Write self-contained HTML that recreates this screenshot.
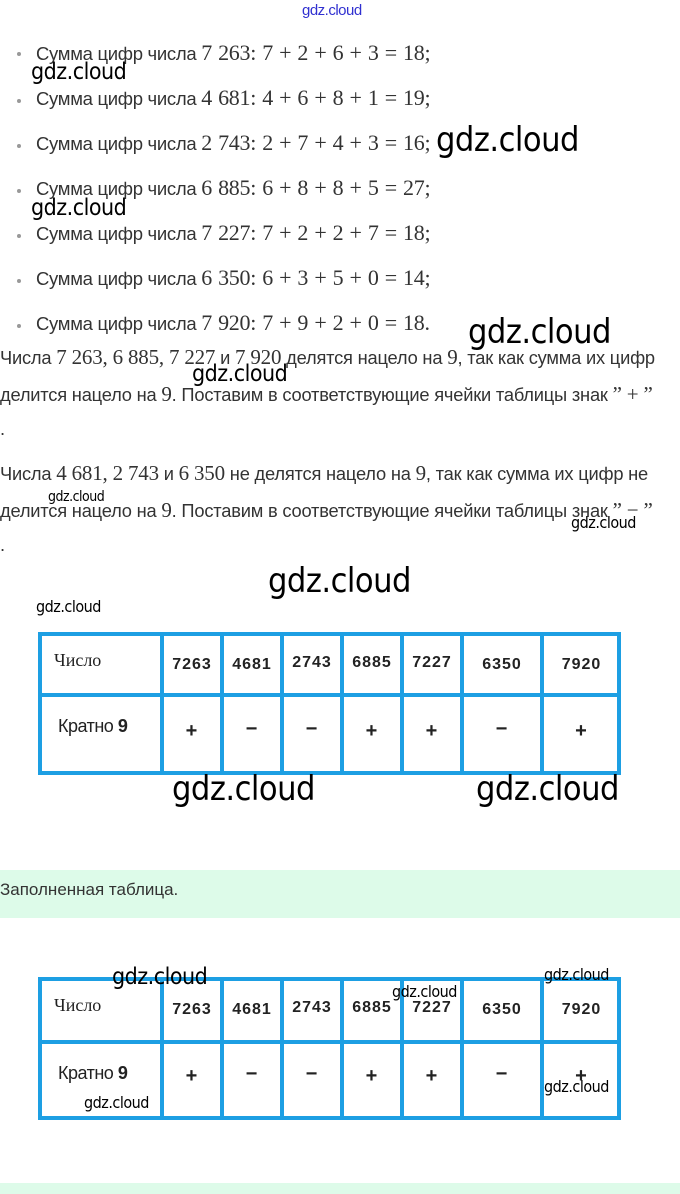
<!DOCTYPE html>
<html><head><meta charset="utf-8"><style>
body{margin:0;width:680px;height:1194px;position:relative;background:#fff;font-family:"Liberation Sans","DejaVu Sans",sans-serif;color:#333;overflow:hidden}
.a{position:absolute;white-space:nowrap}
.li{font-size:18.5px;left:36px;letter-spacing:-0.3px}
.li .m{font-family:"Liberation Serif",serif;font-size:22px;word-spacing:1px}
.dot{position:absolute;left:17px;width:4px;height:4px;background:#999;border-radius:50%}
.p{font-size:18.3px;left:0;letter-spacing:-0.2px}
.p .m{font-family:"Liberation Serif",serif;font-size:21px}
.w{position:absolute;color:#000;font-family:"DejaVu Sans Condensed","DejaVu Sans",sans-serif;white-space:nowrap;letter-spacing:-0.5px}
.tb{position:absolute;left:38px;width:583px;border:4px solid #1d9fe3;box-sizing:border-box}
.vl{position:absolute;top:0;bottom:0;width:4px;background:#1d9fe3}
.hl{position:absolute;left:0;right:0;height:4px;background:#1d9fe3}
.c{position:absolute;font-size:16px;color:#222;text-align:center;letter-spacing:1px;font-weight:bold}
.g{position:absolute;left:0;width:680px;background:#ddfbe9}
</style></head><body>
<div class="a" style="left:302px;top:2px;color:#3030d0;font-size:15px;letter-spacing:-0.5px">gdz.cloud</div>

<div class="dot" style="top:52px"></div><div class="a li" style="top:40px">Сумма цифр числа <span class="m">7 263: 7 + 2 + 6 + 3 = 18;</span></div>
<div class="dot" style="top:99px"></div><div class="a li" style="top:85px">Сумма цифр числа <span class="m">4 681: 4 + 6 + 8 + 1 = 19;</span></div>
<div class="dot" style="top:144px"></div><div class="a li" style="top:130px">Сумма цифр числа <span class="m">2 743: 2 + 7 + 4 + 3 = 16;</span></div>
<div class="dot" style="top:189px"></div><div class="a li" style="top:175px">Сумма цифр числа <span class="m">6 885: 6 + 8 + 8 + 5 = 27;</span></div>
<div class="dot" style="top:234px"></div><div class="a li" style="top:220px">Сумма цифр числа <span class="m">7 227: 7 + 2 + 2 + 7 = 18;</span></div>
<div class="dot" style="top:279px"></div><div class="a li" style="top:265px">Сумма цифр числа <span class="m">6 350: 6 + 3 + 5 + 0 = 14;</span></div>
<div class="dot" style="top:324px"></div><div class="a li" style="top:310px">Сумма цифр числа <span class="m">7 920: 7 + 9 + 2 + 0 = 18.</span></div>

<div class="a p" style="top:345px">Числа <span class="m">7 263, 6 885, 7 227</span> и <span class="m">7 920</span> делятся нацело на <span class="m">9</span>, так как сумма их цифр</div>
<div class="a p" style="top:382px">делится нацело на <span class="m">9</span>. Поставим в соответствующие ячейки таблицы знак <span class="m">” + ”</span></div>
<div class="a p" style="top:418px">.</div>
<div class="a p" style="top:461px">Числа <span class="m">4 681, 2 743</span> и <span class="m">6 350</span> не делятся нацело на <span class="m">9</span>, так как сумма их цифр не</div>
<div class="a p" style="top:498px">делится нацело на <span class="m">9</span>. Поставим в соответствующие ячейки таблицы знак <span class="m">” − ”</span></div>
<div class="a p" style="top:534px">.</div>

<div class="tb" style="top:632px;height:143px">
 <div class="hl" style="top:57px"></div>
 <div class="vl" style="left:118px"></div><div class="vl" style="left:178px"></div><div class="vl" style="left:238px"></div><div class="vl" style="left:298px"></div><div class="vl" style="left:358px"></div><div class="vl" style="left:418px"></div><div class="vl" style="left:498px"></div>
 <div class="c" style="left:12px;top:14px;font-family:'Liberation Serif',serif;font-weight:normal;font-size:18px;letter-spacing:0">Число</div>
 <div class="c" style="left:122px;width:56px;top:20px">7263</div><div class="c" style="left:182px;width:56px;top:20px">4681</div><div class="c" style="left:242px;width:56px;top:18px">2743</div><div class="c" style="left:302px;width:56px;top:18px">6885</div><div class="c" style="left:362px;width:56px;top:18px">7227</div><div class="c" style="left:422px;width:76px;top:20px">6350</div><div class="c" style="left:502px;width:75px;top:20px">7920</div>
 <div class="c" style="left:16px;top:80px;font-weight:normal;font-size:18px;letter-spacing:-0.5px">Кратно <b>9</b></div>
 <div class="c" style="left:122px;width:56px;top:84px;font-size:20px">+</div><div class="c" style="left:182px;width:56px;top:82px;font-size:20px">−</div><div class="c" style="left:242px;width:56px;top:82px;font-size:20px">−</div><div class="c" style="left:302px;width:56px;top:84px;font-size:20px">+</div><div class="c" style="left:362px;width:56px;top:84px;font-size:20px">+</div><div class="c" style="left:422px;width:76px;top:82px;font-size:20px">−</div><div class="c" style="left:502px;width:75px;top:84px;font-size:20px">+</div>
</div>

<div class="g" style="top:870px;height:48px"></div>
<div class="a" style="left:0;top:880px;font-size:17px">Заполненная таблица.</div>

<div class="tb" style="top:977px;height:143px">
 <div class="hl" style="top:59px"></div>
 <div class="vl" style="left:118px"></div><div class="vl" style="left:178px"></div><div class="vl" style="left:238px"></div><div class="vl" style="left:298px"></div><div class="vl" style="left:358px"></div><div class="vl" style="left:418px"></div><div class="vl" style="left:498px"></div>
 <div class="c" style="left:12px;top:14px;font-family:'Liberation Serif',serif;font-weight:normal;font-size:18px;letter-spacing:0">Число</div>
 <div class="c" style="left:122px;width:56px;top:20px">7263</div><div class="c" style="left:182px;width:56px;top:20px">4681</div><div class="c" style="left:242px;width:56px;top:18px">2743</div><div class="c" style="left:302px;width:56px;top:18px">6885</div><div class="c" style="left:362px;width:56px;top:18px">7227</div><div class="c" style="left:422px;width:76px;top:20px">6350</div><div class="c" style="left:502px;width:75px;top:20px">7920</div>
 <div class="c" style="left:16px;top:82px;font-weight:normal;font-size:18px;letter-spacing:-0.5px">Кратно <b>9</b></div>
 <div class="c" style="left:122px;width:56px;top:84px;font-size:20px">+</div><div class="c" style="left:182px;width:56px;top:82px;font-size:20px">−</div><div class="c" style="left:242px;width:56px;top:82px;font-size:20px">−</div><div class="c" style="left:302px;width:56px;top:84px;font-size:20px">+</div><div class="c" style="left:362px;width:56px;top:84px;font-size:20px">+</div><div class="c" style="left:422px;width:76px;top:82px;font-size:20px">−</div><div class="c" style="left:502px;width:75px;top:84px;font-size:20px">+</div>
</div>

<div class="g" style="top:1183px;height:11px"></div>

<div class="w" style="left:31px;top:59px;font-size:23px">gdz.cloud</div>
<div class="w" style="left:436px;top:120px;font-size:34px">gdz.cloud</div>
<div class="w" style="left:31px;top:195px;font-size:23px">gdz.cloud</div>
<div class="w" style="left:468px;top:312px;font-size:34px">gdz.cloud</div>
<div class="w" style="left:192px;top:361px;font-size:23px">gdz.cloud</div>
<div class="w" style="left:48px;top:489px;font-size:14px">gdz.cloud</div>
<div class="w" style="left:571px;top:513px;font-size:16px">gdz.cloud</div>
<div class="w" style="left:268px;top:561px;font-size:34px">gdz.cloud</div>
<div class="w" style="left:36px;top:597px;font-size:16px">gdz.cloud</div>
<div class="w" style="left:172px;top:769px;font-size:34px">gdz.cloud</div>
<div class="w" style="left:476px;top:769px;font-size:34px">gdz.cloud</div>
<div class="w" style="left:112px;top:964px;font-size:23px">gdz.cloud</div>
<div class="w" style="left:392px;top:982px;font-size:16px">gdz.cloud</div>
<div class="w" style="left:544px;top:965px;font-size:16px">gdz.cloud</div>
<div class="w" style="left:544px;top:1077px;font-size:16px">gdz.cloud</div>
<div class="w" style="left:84px;top:1093px;font-size:16px">gdz.cloud</div>
</body></html>
